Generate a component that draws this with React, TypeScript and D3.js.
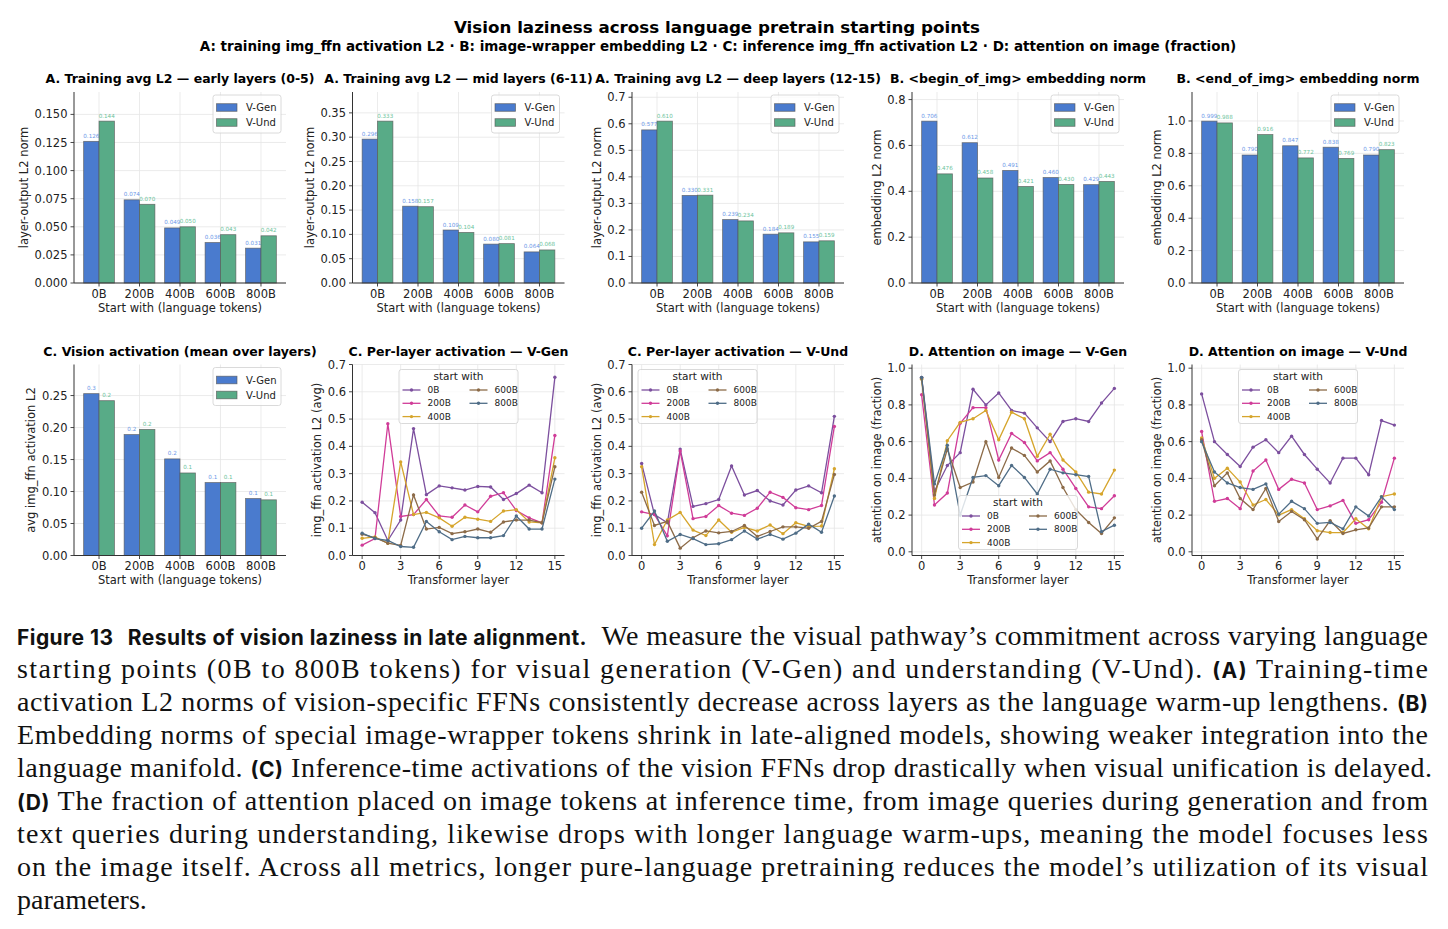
import React from 'react';
import * as d3 from 'd3';

// categories
const STARTS = ['0B', '200B', '400B', '600B', '800B'];
const SERIES = ['V-Gen', 'V-Und'];
const LAYERS = d3.range(16);
const LAYER_TICKS = [0, 3, 6, 9, 12, 15];

// A. training avg L2 (layer groups)
const EARLY_GEN = [0.126, 0.074, 0.049, 0.036, 0.031];
const EARLY_UND = [0.144, 0.070, 0.050, 0.043, 0.042];
const MID_GEN = [0.296, 0.158, 0.109, 0.080, 0.064];
const MID_UND = [0.333, 0.157, 0.104, 0.081, 0.068];
const DEEP_GEN = [0.577, 0.330, 0.239, 0.184, 0.155];
const DEEP_UND = [0.610, 0.331, 0.234, 0.189, 0.159];

// B. image-wrapper embedding norms
const BEGIN_GEN = [0.706, 0.612, 0.491, 0.460, 0.429];
const BEGIN_UND = [0.476, 0.458, 0.421, 0.430, 0.443];
const END_GEN = [0.999, 0.790, 0.847, 0.838, 0.790];
const END_UND = [0.988, 0.916, 0.772, 0.769, 0.823];

// C. vision activation, mean over layers
const VIS_GEN = [0.253, 0.189, 0.151, 0.114, 0.089];
const VIS_UND = [0.242, 0.197, 0.129, 0.114, 0.087];

// C. per-layer activation (rows: 0B, 200B, 400B, 600B, 800B)
const ACT_GEN = [
  [0.195, 0.157, 0.055, 0.130, 0.465, 0.223, 0.255, 0.248, 0.240, 0.253, 0.251, 0.205, 0.227, 0.258, 0.230, 0.653],
  [0.038, 0.062, 0.483, 0.143, 0.150, 0.205, 0.145, 0.140, 0.185, 0.160, 0.217, 0.230, 0.165, 0.138, 0.120, 0.440],
  [0.063, 0.068, 0.045, 0.343, 0.150, 0.158, 0.138, 0.107, 0.140, 0.133, 0.125, 0.163, 0.168, 0.123, 0.120, 0.358],
  [0.078, 0.065, 0.045, 0.037, 0.222, 0.097, 0.103, 0.080, 0.087, 0.097, 0.085, 0.123, 0.130, 0.130, 0.120, 0.325],
  [0.082, 0.062, 0.055, 0.033, 0.030, 0.125, 0.087, 0.058, 0.070, 0.065, 0.065, 0.073, 0.145, 0.097, 0.097, 0.280],
];
const ACT_UND = [
  [0.337, 0.150, 0.120, 0.390, 0.180, 0.190, 0.205, 0.328, 0.222, 0.238, 0.200, 0.185, 0.240, 0.255, 0.230, 0.510],
  [0.160, 0.150, 0.072, 0.383, 0.135, 0.143, 0.183, 0.155, 0.147, 0.173, 0.232, 0.213, 0.175, 0.168, 0.183, 0.473],
  [0.325, 0.040, 0.130, 0.158, 0.093, 0.073, 0.130, 0.085, 0.103, 0.090, 0.112, 0.080, 0.120, 0.107, 0.108, 0.318],
  [0.232, 0.110, 0.125, 0.027, 0.065, 0.090, 0.083, 0.088, 0.110, 0.070, 0.088, 0.105, 0.105, 0.100, 0.125, 0.297],
  [0.100, 0.163, 0.052, 0.077, 0.062, 0.040, 0.043, 0.058, 0.090, 0.060, 0.077, 0.060, 0.082, 0.115, 0.085, 0.218],
];

// D. attention on image (fraction)
const ATT_GEN = [
  [0.950, 0.330, 0.470, 0.540, 0.885, 0.800, 0.865, 0.770, 0.755, 0.675, 0.600, 0.710, 0.725, 0.710, 0.810, 0.890],
  [0.855, 0.255, 0.320, 0.700, 0.785, 0.785, 0.500, 0.645, 0.595, 0.495, 0.540, 0.450, 0.345, 0.245, 0.235, 0.305],
  [0.940, 0.290, 0.605, 0.705, 0.725, 0.770, 0.610, 0.760, 0.725, 0.520, 0.640, 0.500, 0.435, 0.325, 0.315, 0.445],
  [0.945, 0.310, 0.560, 0.350, 0.380, 0.600, 0.405, 0.565, 0.525, 0.435, 0.495, 0.350, 0.230, 0.160, 0.100, 0.185],
  [0.950, 0.370, 0.580, 0.200, 0.405, 0.415, 0.360, 0.470, 0.405, 0.315, 0.450, 0.430, 0.420, 0.410, 0.110, 0.145],
];
const ATT_UND = [
  [0.860, 0.600, 0.530, 0.465, 0.570, 0.610, 0.540, 0.630, 0.530, 0.450, 0.375, 0.510, 0.510, 0.420, 0.715, 0.690],
  [0.655, 0.275, 0.290, 0.235, 0.440, 0.500, 0.340, 0.395, 0.375, 0.230, 0.250, 0.280, 0.155, 0.175, 0.270, 0.510],
  [0.620, 0.400, 0.455, 0.380, 0.255, 0.285, 0.200, 0.230, 0.180, 0.115, 0.105, 0.105, 0.180, 0.125, 0.300, 0.315],
  [0.610, 0.360, 0.430, 0.290, 0.230, 0.345, 0.165, 0.220, 0.175, 0.070, 0.170, 0.100, 0.120, 0.130, 0.245, 0.245],
  [0.600, 0.435, 0.375, 0.350, 0.340, 0.370, 0.205, 0.275, 0.235, 0.155, 0.160, 0.125, 0.245, 0.195, 0.300, 0.230],
];

// y tick values
const TICKS_EARLY = [0, 0.025, 0.05, 0.075, 0.1, 0.125, 0.15];
const TICKS_MID = [0, 0.05, 0.1, 0.15, 0.2, 0.25, 0.3, 0.35];
const TICKS_DEEP = [0, 0.1, 0.2, 0.3, 0.4, 0.5, 0.6, 0.7];
const TICKS_BEGIN = [0, 0.2, 0.4, 0.6, 0.8];
const TICKS_END = [0, 0.2, 0.4, 0.6, 0.8, 1.0];
const TICKS_VIS = [0, 0.05, 0.1, 0.15, 0.2, 0.25];
const TICKS_ACT = [0, 0.1, 0.2, 0.3, 0.4, 0.5, 0.6, 0.7];
const TICKS_ATT = [0, 0.2, 0.4, 0.6, 0.8, 1.0];

const FONT = 'DejaVu Sans, sans-serif';
const GEN_COLOR = '#4a7bce';
const UND_COLOR = '#58ab87';
const LINE_COLORS = ['#7c4f9e', '#d03c98', '#d6a52c', '#8c6b48', '#4f6d87'];
const W = 212;
const H = 191;
const LEFTS = [74, 352.5, 632, 912, 1192];
const ROW1 = 92;
const ROW2 = 364.5;

const GRID = '#e6e6e6';
const AXIS = '#333';

type Lin = d3.ScaleLinear<number, number>;

function Grid({ x, y, xt, yt }: { x: Lin; y: Lin; xt: number[]; yt: number[] }) {
  return (
    <g>
      {yt.map((t) => <line key={'y' + t} x1={0} x2={W} y1={y(t)} y2={y(t)} stroke={GRID} strokeWidth={0.8} />)}
      {xt.map((t) => <line key={'x' + t} x1={x(t)} x2={x(t)} y1={0} y2={H} stroke={GRID} strokeWidth={0.8} />)}
    </g>
  );
}

function Frame({ x, y, xt, xl, yt, yfmt, title, xlabel, ylabel }: {
  x: Lin; y: Lin; xt: number[]; xl: string[]; yt: number[]; yfmt: (v: number) => string;
  title: string; xlabel: string; ylabel: string;
}) {
  const labels = yt.map(yfmt);
  const n = d3.max(labels, (s) => s.length) as number;
  const off = 31.5 + 7.25 * (n - 3);
  return (
    <g fontFamily={FONT} fill="#222">
      <line x1={0} x2={0} y1={0} y2={H} stroke={AXIS} strokeWidth={1} />
      <line x1={0} x2={W} y1={H} y2={H} stroke={AXIS} strokeWidth={1} />
      {yt.map((t, i) => (
        <g key={'yt' + t} transform={`translate(0,${y(t)})`}>
          <line x1={-3.5} x2={0} stroke={AXIS} strokeWidth={0.9} />
          <text x={-6.5} dy="0.35em" textAnchor="end" fontSize={11.5}>{labels[i]}</text>
        </g>
      ))}
      {xt.map((t, i) => (
        <g key={'xt' + t} transform={`translate(${x(t)},${H})`}>
          <line y1={0} y2={3.5} stroke={AXIS} strokeWidth={0.9} />
          <text y={14.5} textAnchor="middle" fontSize={11.5}>{xl[i]}</text>
        </g>
      ))}
      <text x={W / 2} y={H + 28.5} textAnchor="middle" fontSize={11.5}>{xlabel}</text>
      <text transform={`translate(${-off},${H / 2}) rotate(-90)`} textAnchor="middle" fontSize={11.5}>{ylabel}</text>
      <text x={W / 2} y={-9} textAnchor="middle" fontSize={12.5} fontWeight="bold" fill="#000">{title}</text>
    </g>
  );
}

function BarPanel({ left, top, title, ylabel, gen, und, ticks, fmt, valFmt }: {
  left: number; top: number; title: string; ylabel: string; gen: number[]; und: number[];
  ticks: number[]; fmt: string; valFmt: string;
}) {
  const bw = 0.38;
  const n = STARTS.length;
  const pad = (n - 1 + 2 * bw) * 0.05;
  const x = d3.scaleLinear().domain([-bw - pad, n - 1 + bw + pad]).range([0, W]);
  const y = d3.scaleLinear().domain([0, (d3.max([...gen, ...und]) as number) * 1.18]).range([H, 0]);
  const vf = d3.format(valFmt);
  const groups = [
    { vals: gen, off: -bw, color: GEN_COLOR, text: '#6b98e8' },
    { vals: und, off: 0, color: UND_COLOR, text: '#6cc39b' },
  ];
  const idx = d3.range(n);
  const lx = W - 73;
  return (
    <g transform={`translate(${left},${top})`}>
      <Grid x={x} y={y} xt={idx} yt={ticks} />
      {groups.map((g, gi) => (
        <g key={gi}>
          {g.vals.map((v, i) => (
            <rect key={i} x={x(i + g.off)} y={y(v)} width={x(i + g.off + bw) - x(i + g.off)} height={H - y(v)}
              fill={g.color} stroke="#555" strokeOpacity={0.75} strokeWidth={0.8} />
          ))}
          {g.vals.map((v, i) => (
            <text key={'t' + i} x={x(i + g.off + bw / 2)} y={y(v) - 3.5} textAnchor="middle" fontSize={5.6}
              fontFamily={FONT} fill={g.text}>{vf(v)}</text>
          ))}
        </g>
      ))}
      <Frame x={x} y={y} xt={idx} xl={STARTS} yt={ticks} yfmt={d3.format(fmt)} title={title}
        xlabel="Start with (language tokens)" ylabel={ylabel} />
      <g transform={`translate(${lx},3)`} fontFamily={FONT}>
        <rect width={68} height={38} rx={2.5} fill="#fff" fillOpacity={0.8} stroke="#d0d0d0" strokeWidth={0.8} />
        {SERIES.map((s, i) => (
          <g key={s} transform={`translate(0,${12.5 + 15 * i})`}>
            <rect x={3.5} y={-3.8} width={20.5} height={7.6} fill={i === 0 ? GEN_COLOR : UND_COLOR} stroke="#555"
              strokeOpacity={0.75} strokeWidth={0.8} />
            <text x={33} dy="0.35em" fontSize={10} fill="#222">{s}</text>
          </g>
        ))}
      </g>
    </g>
  );
}

function LinePanel({ left, top, title, ylabel, lines, ydom, ticks, legend }: {
  left: number; top: number; title: string; ylabel: string; lines: number[][];
  ydom: [number, number]; ticks: number[]; legend: 'uc' | 'ul' | 'lc';
}) {
  const x = d3.scaleLinear().domain([-0.75, 15.75]).range([0, W]);
  const y = d3.scaleLinear().domain(ydom).range([H, 0]);
  const line = d3.line<number>().x((_, i) => x(LAYERS[i])).y((v) => y(v));
  const bwid = 119, bh = 54;
  const bx = legend === 'ul' ? 6 : (W - bwid) / 2;
  const by = legend === 'lc' ? H - 6 - bh : 5;
  return (
    <g transform={`translate(${left},${top})`}>
      <Grid x={x} y={y} xt={LAYER_TICKS} yt={ticks} />
      {lines.map((vals, k) => (
        <g key={k}>
          <path d={line(vals) as string} fill="none" stroke={LINE_COLORS[k]} strokeWidth={1.3} />
          {vals.map((v, i) => <circle key={i} cx={x(LAYERS[i])} cy={y(v)} r={1.7} fill={LINE_COLORS[k]} />)}
        </g>
      ))}
      <Frame x={x} y={y} xt={LAYER_TICKS} xl={LAYER_TICKS.map(String)} yt={ticks} yfmt={d3.format('.1f')}
        title={title} xlabel="Transformer layer" ylabel={ylabel} />
      <g transform={`translate(${bx},${by})`} fontFamily={FONT}>
        <rect width={bwid} height={bh} rx={2.5} fill="#fff" fillOpacity={0.8} stroke="#d0d0d0" strokeWidth={0.8} />
        <text x={bwid / 2} y={10.5} textAnchor="middle" fontSize={10.5} fill="#222">start with</text>
        {STARTS.map((s, k) => {
          const col = k < 3 ? 0 : 1;
          const row = k < 3 ? k : k - 3;
          return (
            <g key={s} transform={`translate(${col * 67},${20.5 + 13.3 * row})`}>
              <line x1={3.5} x2={21.5} stroke={LINE_COLORS[k]} strokeWidth={1.3} />
              <circle cx={12.5} r={1.7} fill={LINE_COLORS[k]} />
              <text x={28.5} dy="0.35em" fontSize={9} fill="#222">{s}</text>
            </g>
          );
        })}
      </g>
    </g>
  );
}

// caption lines: [text, bold]
type Seg = [string, boolean];
const CAPTION: Seg[][] = [
  [['Figure 13', true], ['\u2002', false], ['Results of vision laziness in late alignment.', true],
    ['\u2002We measure the visual pathway’s commitment across varying language', false]],
  [['starting points (0B to 800B tokens) for visual generation (V-Gen) and understanding (V-Und). ', false],
    ['(A)', true], [' Training-time', false]],
  [['activation L2 norms of vision-specific FFNs consistently decrease across layers as the language warm-up lengthens. ', false],
    ['(B)', true]],
  [['Embedding norms of special image-wrapper tokens shrink in late-aligned models, showing weaker integration into the', false]],
  [['language manifold. ', false], ['(C)', true],
    [' Inference-time activations of the vision FFNs drop drastically when visual unification is delayed.', false]],
  [['(D)', true], [' The fraction of attention placed on image tokens at inference time, from image queries during generation and from', false]],
  [['text queries during understanding, likewise drops with longer language warm-ups, meaning the model focuses less', false]],
  [['on the image itself. Across all metrics, longer pure-language pretraining reduces the model’s utilization of its visual', false]],
  [['parameters.', false]],
];

export default function App() {
  return (
    <svg width={1448} height={929} style={{ position: 'absolute', left: 0, top: 0, background: '#fff' }}>
      <text x={717} y={32.5} textAnchor="middle" fontFamily={FONT} fontWeight="bold" fontSize={16.7}>
        Vision laziness across language pretrain starting points
      </text>
      <text x={718} y={51} textAnchor="middle" fontFamily={FONT} fontWeight="bold" fontSize={13.5}>
        A: training img_ffn activation L2 · B: image-wrapper embedding L2 · C: inference img_ffn activation L2 · D: attention on image (fraction)
      </text>

      <BarPanel left={LEFTS[0]} top={ROW1} title="A. Training avg L2 — early layers (0-5)" ylabel="layer-output L2 norm"
        gen={EARLY_GEN} und={EARLY_UND} ticks={TICKS_EARLY} fmt=".3f" valFmt=".3f" />
      <BarPanel left={LEFTS[1]} top={ROW1} title="A. Training avg L2 — mid layers (6-11)" ylabel="layer-output L2 norm"
        gen={MID_GEN} und={MID_UND} ticks={TICKS_MID} fmt=".2f" valFmt=".3f" />
      <BarPanel left={LEFTS[2]} top={ROW1} title="A. Training avg L2 — deep layers (12-15)" ylabel="layer-output L2 norm"
        gen={DEEP_GEN} und={DEEP_UND} ticks={TICKS_DEEP} fmt=".1f" valFmt=".3f" />
      <BarPanel left={LEFTS[3]} top={ROW1} title="B. <begin_of_img> embedding norm" ylabel="embedding L2 norm"
        gen={BEGIN_GEN} und={BEGIN_UND} ticks={TICKS_BEGIN} fmt=".1f" valFmt=".3f" />
      <BarPanel left={LEFTS[4]} top={ROW1} title="B. <end_of_img> embedding norm" ylabel="embedding L2 norm"
        gen={END_GEN} und={END_UND} ticks={TICKS_END} fmt=".1f" valFmt=".3f" />

      <BarPanel left={LEFTS[0]} top={ROW2} title="C. Vision activation (mean over layers)" ylabel="avg img_ffn activation L2"
        gen={VIS_GEN} und={VIS_UND} ticks={TICKS_VIS} fmt=".2f" valFmt=".1f" />
      <LinePanel left={LEFTS[1]} top={ROW2} title="C. Per-layer activation — V-Gen" ylabel="img_ffn activation L2 (avg)"
        lines={ACT_GEN} ydom={[0, 0.7]} ticks={TICKS_ACT} legend="uc" />
      <LinePanel left={LEFTS[2]} top={ROW2} title="C. Per-layer activation — V-Und" ylabel="img_ffn activation L2 (avg)"
        lines={ACT_UND} ydom={[0, 0.7]} ticks={TICKS_ACT} legend="ul" />
      <LinePanel left={LEFTS[3]} top={ROW2} title="D. Attention on image — V-Gen" ylabel="attention on image (fraction)"
        lines={ATT_GEN} ydom={[-0.02, 1.02]} ticks={TICKS_ATT} legend="lc" />
      <LinePanel left={LEFTS[4]} top={ROW2} title="D. Attention on image — V-Und" ylabel="attention on image (fraction)"
        lines={ATT_UND} ydom={[-0.02, 1.02]} ticks={TICKS_ATT} legend="uc" />

      {CAPTION.map((line, li) => {
        const last = li === CAPTION.length - 1;
        const right = li === 4 ? 1432 : 1428;
        return (
          <text key={li} x={17} y={645 + 33 * li} fill="#111" fontFamily="Liberation Serif, serif" fontSize={28}
            textLength={last ? undefined : right - 17} lengthAdjust="spacing" style={{ whiteSpace: 'pre' }}>
            {line.map(([t, b], si) => (
              <tspan key={si} fontFamily={b ? 'Inter, sans-serif' : undefined} fontWeight={b ? 700 : undefined}
                fontSize={b ? 21 : undefined}>{t}</tspan>
            ))}
          </text>
        );
      })}
    </svg>
  );
}
